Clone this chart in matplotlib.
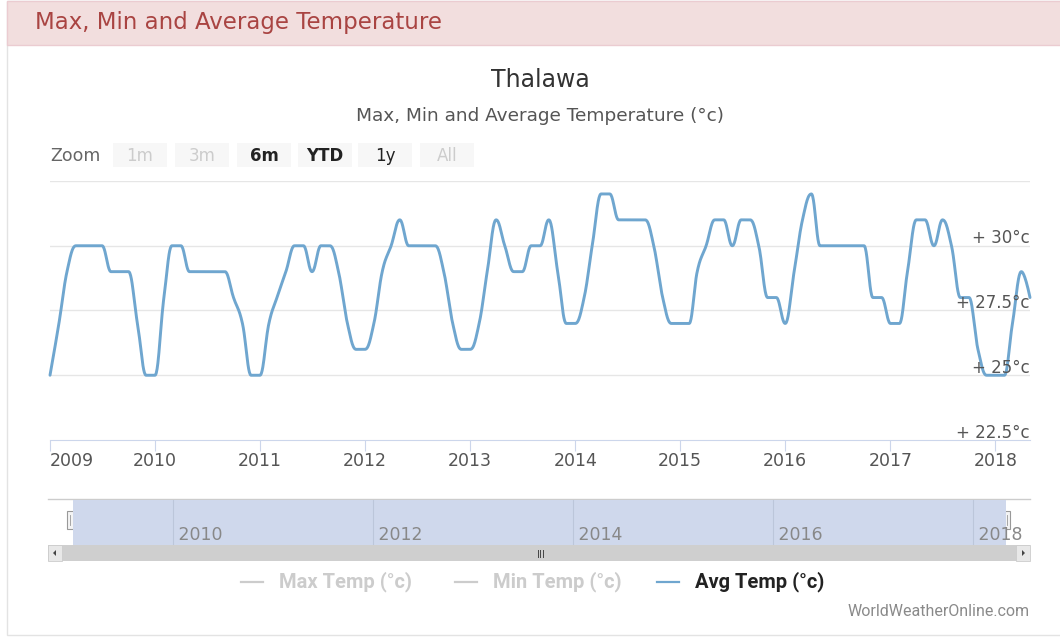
import datetime as dt
import matplotlib
matplotlib.use("Agg")
import matplotlib.pyplot as plt
import matplotlib.dates as mdates
import matplotlib.transforms as mtransforms
from matplotlib.patches import Rectangle, Polygon
import numpy as np

plt.rcParams['font.family'] = ['DejaVu Sans']

# ---- data -------------------------------------------------------------
location = "Thalawa"
panel_title = "Max, Min and Average Temperature"
chart_subtitle = "Max, Min and Average Temperature (°c)"
start_year, start_month = 2009, 1

avg_temp = [
    25, 27, 29, 30, 30, 30, 30, 29, 29, 29, 27, 25,   # 2009
    25, 28, 30, 30, 29, 29, 29, 29, 29, 28, 27, 25,   # 2010
    25, 27, 28, 29, 30, 30, 29, 30, 30, 29, 27, 26,   # 2011
    26, 27, 29, 30, 31, 30, 30, 30, 30, 29, 27, 26,   # 2012
    26, 27, 29, 31, 30, 29, 29, 30, 30, 31, 29, 27,   # 2013
    27, 28, 30, 32, 32, 31, 31, 31, 31, 30, 28, 27,   # 2014
    27, 27, 29, 30, 31, 31, 30, 31, 31, 30, 28, 28,   # 2015
    27, 29, 31, 32, 30, 30, 30, 30, 30, 30, 28, 28,   # 2016
    27, 27, 29, 31, 31, 30, 31, 30, 28, 28, 26, 25,   # 2017
    25, 25, 27, 29, 28,                               # 2018
]
y_ticks = [22.5, 25, 27.5, 30]
grid_values = [25, 27.5, 30, 32.5]
x_tick_years = list(range(2009, 2019))
nav_years = [2010, 2012, 2014, 2016, 2018]
zoom_buttons = ["1m", "3m", "6m", "YTD", "1y", "All"]
zoom_enabled = [False, False, True, True, True, False]
legend_items = ["Max Temp (°c)", "Min Temp (°c)", "Avg Temp (°c)"]
legend_visible = [False, False, True]
credit = "WorldWeatherOnline.com"

# ---- dates --------------------------------------------------------------
dates = []
y, m = start_year, start_month
for _ in avg_temp:
    dates.append(dt.datetime(y, m, 1))
    m += 1
    if m > 12:
        m, y = 1, y + 1
xnum = mdates.date2num(dates)
x_start, x_end = xnum[0], xnum[-1]


def spline_path(xs, ys, smoothing=1.5, n=24):
    """Cubic Bezier spline with the same control point rule as Highcharts."""
    denom = smoothing + 1
    N = len(xs)
    left = [None] * N
    right = [None] * N
    for i in range(1, N - 1):
        px, py = xs[i], ys[i]
        lx, ly = xs[i - 1], ys[i - 1]
        nx, ny = xs[i + 1], ys[i + 1]
        lcx = (smoothing * px + lx) / denom
        lcy = (smoothing * py + ly) / denom
        rcx = (smoothing * px + nx) / denom
        rcy = (smoothing * py + ny) / denom
        corr = 0.0
        if rcx != lcx:
            corr = ((rcy - lcy) * (rcx - px)) / (rcx - lcx) + py - rcy
        lcy += corr
        rcy += corr
        if lcy > ly and lcy > py:
            lcy = max(ly, py); rcy = 2 * py - lcy
        elif lcy < ly and lcy < py:
            lcy = min(ly, py); rcy = 2 * py - lcy
        if rcy > ny and rcy > py:
            rcy = max(ny, py); lcy = 2 * py - rcy
        elif rcy < ny and rcy < py:
            rcy = min(ny, py); lcy = 2 * py - rcy
        left[i] = (lcx, lcy)
        right[i] = (rcx, rcy)
    t = np.linspace(0, 1, n)
    out_x, out_y = [xs[0]], [ys[0]]
    for i in range(1, N):
        p0 = np.array([xs[i - 1], ys[i - 1]], float)
        p3 = np.array([xs[i], ys[i]], float)
        p1 = np.array(right[i - 1] if right[i - 1] else p0, float)
        p2 = np.array(left[i] if left[i] else p3, float)
        tt = t[1:, None]
        pts = ((1 - tt) ** 3) * p0 + 3 * ((1 - tt) ** 2) * tt * p1 \
            + 3 * (1 - tt) * tt ** 2 * p2 + tt ** 3 * p3
        out_x.extend(pts[:, 0]); out_y.extend(pts[:, 1])
    return np.array(out_x), np.array(out_y)


W, H = 1060, 638
fig = plt.figure(figsize=(W / 100, H / 100), dpi=100)
fig.patch.set_facecolor("white")


def frac(x0, y0, x1, y1):
    return [x0 / W, 1 - y1 / H, (x1 - x0) / W, (y1 - y0) / H]


# ---- page furniture (pixel coordinates) --------------------------------
bg = fig.add_axes([0, 0, 1, 1], zorder=0)
bg.set_xlim(0, W); bg.set_ylim(H, 0); bg.axis("off")
bg.add_patch(Rectangle((7, 1), W, H - 4, fill=False, ec="#e3e3e3", lw=1))
bg.add_patch(Rectangle((7, 1), W, 44, fc="#f2dede", ec="#ebccd1", lw=1))
bg.text(35, 23, panel_title, color="#a94442", fontsize=16.5, va="center")

bg.text(540, 80, location, color="#333333", fontsize=17, ha="center", va="center")
bg.text(540, 116, chart_subtitle, color="#555555", fontsize=13.3, ha="center", va="center")

bg.text(50, 156, "Zoom", color="#666666", fontsize=12.5, va="center")
btn_x = [113, 175, 237, 298, 358, 420]
for bx, label, on in zip(btn_x, zoom_buttons, zoom_enabled):
    bg.add_patch(Rectangle((bx, 143), 54, 24, fc="#f7f7f7", ec="none"))
    bg.text(bx + 27, 156, label, ha="center", va="center", fontsize=12,
            color="#222222" if on else "#cccccc",
            fontweight="bold" if label in ("6m", "YTD") else "normal")

# ---- main chart -----------------------------------------------------------
ax = fig.add_axes(frac(50, 181, 1030, 440), zorder=2)
ax.patch.set_alpha(0)
ax.set_xlim(x_start, x_end)
ax.set_ylim(22.5, 32.5)
for g in grid_values:
    ax.axhline(g, color="#e6e6e6", lw=1, zorder=1)
for s in ("top", "left", "right"):
    ax.spines[s].set_visible(False)
ax.spines["bottom"].set_color("#ccd6eb")
ax.set_yticks([])
ax.set_xticks(mdates.date2num([dt.datetime(yy, 1, 1) for yy in x_tick_years]))
ax.set_xticklabels([str(yy) for yy in x_tick_years])
ax.tick_params(axis="x", length=8, color="#ccd6eb", labelsize=12.5,
               labelcolor="#555555", pad=0.5)
ax.get_xticklabels()[0].set_horizontalalignment("left")

sx, sy = spline_path(xnum, avg_temp)
ax.plot(sx, sy, color="#6fa6cf", lw=2.1, solid_capstyle="round", zorder=3,
        clip_on=False)

label_tr = mtransforms.offset_copy(ax.get_yaxis_transform(), fig=fig, y=2.5,
                                   units="dots")
for v in y_ticks:
    lab = f"+ {v:g}°c"
    ax.text(1.0, v, lab, transform=label_tr, ha="right",
            va="baseline", fontsize=12, color="#555555", zorder=4)

# ---- navigator ------------------------------------------------------------
bg.plot([48, 1030], [499, 499], color="#cccccc", lw=1)
nav = fig.add_axes(frac(73, 500, 1006, 545), zorder=1)
nav.set_xlim(x_start, x_end)
nav.set_ylim(0, 1)
nav.axis("off")
nav.axvspan(x_start, x_end, color="#cfd8ec", lw=0)
for yy in nav_years:
    xv = mdates.date2num(dt.datetime(yy, 1, 1))
    nav.axvline(xv, color="#bcc6da", lw=0.8)
    nav.text(xv, 0.22, f" {yy}", ha="left", va="center", fontsize=12.5,
             color="#888888")

for hx in (67, 1001):
    bg.add_patch(Rectangle((hx, 511), 9, 18, fc="#f4f4f4", ec="#999999", lw=0.8, zorder=5))
    for dx in (3.2, 5.8):
        bg.plot([hx + dx, hx + dx], [515, 525], color="#999999", lw=0.6, zorder=6)

# scrollbar
bg.add_patch(Rectangle((48, 545), 982, 16, fc="#cfcfcf", ec="none"))
bg.add_patch(Rectangle((48, 545), 14, 16, fc="#e8e8e8", ec="#cccccc", lw=0.6))
bg.add_patch(Rectangle((1016, 545), 14, 16, fc="#e8e8e8", ec="#cccccc", lw=0.6))
bg.add_patch(Polygon([[53, 553], [56, 550], [56, 556]], fc="#444444"))
bg.add_patch(Polygon([[1025, 553], [1022, 550], [1022, 556]], fc="#444444"))
for dx in (-2.5, 0, 2.5):
    bg.plot([540 + dx, 540 + dx], [549.5, 556.5], color="#444444", lw=0.7)

# ---- legend ----------------------------------------------------------------
leg_x = [241, 455, 657]
for lx, name, vis in zip(leg_x, legend_items, legend_visible):
    col = "#6fa6cf" if vis else "#cccccc"
    bg.plot([lx, lx + 22], [582, 582], color=col, lw=1.6)
    bg.text(lx + 38, 582, name, va="center", fontsize=14.5, fontweight="bold",
            color="#222222" if vis else "#cccccc",
            family=["Liberation Sans Narrow", "Roboto", "DejaVu Sans"])

bg.text(1030, 611, credit, ha="right", va="center", fontsize=11.5, color="#8a8a8a",
        family=["Liberation Sans Narrow", "Roboto", "DejaVu Sans"])

fig.savefig("out.png", dpi=100)
